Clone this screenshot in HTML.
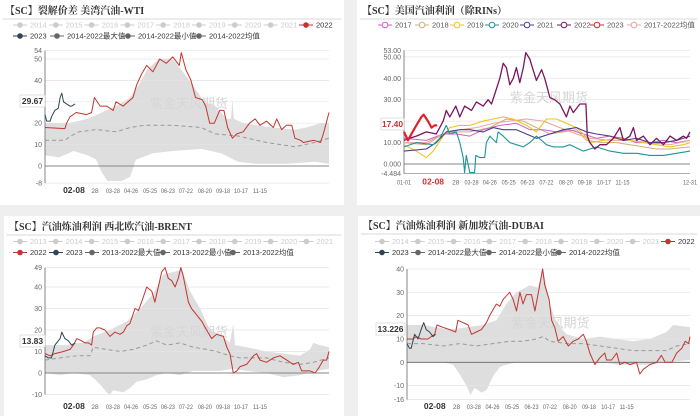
<!DOCTYPE html>
<html><head><meta charset="utf-8"><style>
html,body{margin:0;padding:0;background:#efefef;}
svg{display:block;font-family:"Liberation Sans","Noto Sans CJK SC",sans-serif;}
.ttl{font-family:"Liberation Serif","Noto Serif CJK SC",serif;font-weight:bold;font-size:10px;fill:#333;}
.tk{font-size:7px;fill:#666;}
.lg{font-size:7.5px;}
</style></head><body>
<svg id="chart" width="700" height="416"></svg>
<script>
// ---------- Panel 1: 裂解价差 美湾汽油-WTI ----------
const p1RedX=[0,7,7.6,8.8,11,14.7,16.4,17.4,19.4,21.7,24,25,27.5,31,32.3,34,35.8,38,40.4,42.7,45,47.3,48,49.6,51.4,53,55.4,56.6,58,59.6,61.5,63,64.3,66,67.5,69.8,72,74,75.7,78,80.4,81.6,83.3,85,86.9,88,90,91,94.7,97,98,99,100];
const p1RedY=[18,17.5,20,23,25,24,25,32,28,28,26,30,28,32,38,43,47,44,50,48,51,47,53,45,40,32,31,28,20,20,26,26,18,13,15,16,20,22,19,21,18,22,17,19,19,13,12,11,12,11,15,20,25];
const p1BlueX=[0,0.6,1.8,2.3,3.5,4.7,5.3,5.9,6.5,7.6,8.8,9.4,10.6];
const p1BlueY=[24,21,21,23,26,27,32,34,30,29,28,28,29];
const p1MaxX=[0,8,15,20,25,30,33,36,40,45,48,52,56,60,64,65.5,66,66.5,70,80,88,92,97,100];
const p1MaxY=[20,20,22,25,28,32,38,45,50,50,45,38,30,28,22,22,31,22,20,18,17,18,20,20];
const p1MinX=[0,5,10,15,18,20,22,27,30,32,38,45,55,62,68,75,85,95,100];
const p1MinY=[5,4,7,5,3,-3,-7,-7,-5,3,6,7,8,6,2,1,1,2,1];
const p1AvgX=[0,7,9,12,18,25,30,35,45,55,60,68,78,88,95,100];
const p1AvgY=[12,12,14,16,17,16,18,19,19,18,15,14,11,9,11,13];
const p1Ticks=[54,50,40,30,20,10,0,-8];
const p1Dates=["02-08","28","03-28","04-26","05-25","06-23","07-22","08-20","09-18","10-17","11-15"];
const p1DateX=[10.2,17.6,23.9,30.3,37,43.3,49.6,56.3,62.7,69,75.7];

// ---------- Panel 2: 美国汽油利润（除RINs） ----------
const p2Y2022X=[0,2,4.3,7.8,11.3,13.7,14.8,16,18.1,19.5,21.2,23.6,25.3,27.7,29.4,30.6,32.3,33.5,34.7,35.8,37,38.2,39.3,40.5,41.7,42.6,44,44.9,46.3,48.1,49.2,51,52.7,54.5,56.8,58,59.2,61.5,63.6,64.1,65,66.7,68.5,70.8,73.2,75.5,76.7,79,80.2,81.3,83.7,86,88.3,90.7,93,95.3,97.7,98.8,100];
const p2Y2022Y=[11,12,13,15,14,20,25,22,27,22,27,25,29,27,30,28,35,40,47,45,37,40,45,38,45,52,49,45,39,44,40,31,30,28,22,27,24,28,28,13,10,7,9,9,12,17,11,13,17,11,13,9,12,9,13,11,13,12,15];
const p2Y2023X=[0,1.4,2.6,4.3,6.1,6.9,8.4,9.6,10.7,11.6];
const p2Y2023Y=[15,11,14,18,22,23,20,17,18,18];
const p2Y2020X=[0,4.3,10.2,12.5,14.8,16,18.3,19.5,20.7,21.2,21.8,23,24.7,25.1,26.5,28.2,28.8,30,32.3,32.9,34.7,37,39.3,41.7,44,46.3,48.1,49.8,52.2,55.7,58,62.7,67.3,72,76.7,81.3,86,90.7,95.3,100];
const p2Y2020Y=[8,10,9,12,18,14,15,10,3,-4,4,-4,-4,4,3,3,10,13,10,15,13,10,9,8,10,13,11,9,8,8,9,6,8,6,5,5,4,4,5,6];
const p2Y2019X=[0,4.3,7.8,10.2,13.7,16,19.5,23,27.7,31.2,34.7,38.2,42.8,46.3,49.8,53.3,56.8,60.3,62.7,65,69.7,74.3,79,83.7,88.3,93,97.7,100];
const p2Y2019Y=[9,6,3,6,13,17,18,18,20,21,22,21,18,15,21,21,19,17,14,10,11,12,11,10,9,8,9,10];
const p2Y2021X=[0,7.8,11.3,14.8,19.5,23,27.7,31.2,34.7,39.3,42.8,46.3,51,55.7,60.3,63.8,67.3,72,76.7,81.3,86,90.7,95.3,100];
const p2Y2021Y=[6,7,10,15,16,16,15,17,16,16,14,12,14,16,17,15,14,13,11,12,10,10,11,13];
const p2Y2018X=[0,7.8,13.7,18.3,23,30,35.8,41.7,46.3,51,55.7,60.3,63.8,69.7,74.3,79,83.7,88.3,93,100];
const p2Y2018Y=[10,9,14,15,15,17,21,20,17,14,15,16,11,10,10,9,8,7,7,8];
const p2Y2017X=[0,7.8,13.7,18.3,23,27.7,33.5,39.3,44,48.7,53.3,58,62.7,67.3,72,76.7,81.3,86,90.7,95.3,100];
const p2Y2017Y=[12,11,14,14,13,16,18,19,16,16,15,16,14,12,13,12,10,10,11,10,11];
const p2AvgX=[0,7.8,13.7,19.5,25.3,31.2,37,42.8,48.7,54.5,60.3,65,72,79,86,93,100];
const p2AvgY=[10,10,14,16,17,19,20,21,20,17,14,12,11,11,10,9,11];
const p2Ticks=[53,50,40,30,20,10,0,-4.484];
const p2TickText=["53.00","50.00","40.00","30.00","20.00","10.00","0.000","-4.484"];
const p2Dates=["01-01","02-08","28","03-28","04-26","05-25","06-23","07-22","08-20","09-18","10-17","11-15","12-31"];
const p2DateX=[0,10.2,18.1,23.6,30,36.6,43.2,49.8,56.6,63.2,69.9,76.4,100];

// ---------- Panel 3: 西北欧汽油-BRENT ----------
const p3RedX=[0,1.8,3.5,6.5,8.8,10,11.2,12.9,14.1,15.3,16.4,17,18.2,19.4,21.1,22.9,24.6,26.4,27.6,28.8,29.9,31.7,32.9,34,35.8,37.6,38.7,39.9,41.1,42.3,43.4,44.6,45.8,46.9,47.8,48.7,50.5,51.6,53.4,55.2,56.9,58.7,60.4,62.8,64,65.1,66.3,67.5,68.7,71,73.4,74.5,75.7,78,80.4,82.7,85.1,87.4,89.2,90.4,93.3,95.1,96.2,98,99.2,100];
const p3RedY=[9,8,9,10,11,13,16,15,14,14,13,19,21,21,20,17,19,18,19,22,23,30,29,33,40,38,33,40,47,49,44,43,40,44,49,45,33,30,27,24,20,16,18,17,12,9,0,1,3,4,8,9,6,5,7,8,6,4,5,1,1,0,2,6,6,10];
const p3BlueX=[0,1.2,2.3,3.5,4.7,5.3,5.9,7,8.2,9.4,10.6];
const p3BlueY=[8,7,7,13,15,16,19,16,15,13,14];
const p3MaxX=[0,7.6,11.2,13.5,17,22.9,28.8,33.5,38.2,41.7,45.3,48.2,51.1,54.6,58.1,61.6,65.1,66.3,66.9,71,78,84,89.8,93.3,94.5,96.8,100];
const p3MaxY=[13,13,14,14,17,20,24,30,37,46,47,48,38,30,20,18,14,23,13,12,10,9,8,11,14,13,12];
const p3MinX=[0,5.3,10,15.8,17.6,19.9,21.7,22.9,24,27.6,29.9,32.3,35.8,39.3,42.8,47.5,52.2,56.9,61.6,66.3,71,78,84,89.8,95.7,100];
const p3MinY=[0,-1,0,-1,-3,-6,-9,-10,-8,-9,-7,-4,-3,-1,0,-1,1,1,1,2,1,0,-2,-1,1,2];
const p3AvgX=[0,5.3,11.2,15.8,17,21.7,26.4,31.1,35.8,39.3,42.8,47.5,52.2,56.9,60.4,65.1,68.7,73.4,78,84,89.8,94.5,100];
const p3AvgY=[6,7,8,8,12,11,10,11,13,15,13,14,12,11,10,8,7,7,7,5,4,5,7];
const p3Ticks=[49,40,30,20,10,0,-10];

// ---------- Panel 4: 新加坡汽油-DUBAI ----------
const p4RedX=[0,2.1,3.3,5,7.4,9.8,10.6,12.7,15.1,17.2,18,19.8,21.6,22.8,24.5,26.3,28.1,29.2,31.6,32.8,34,36.3,37.5,38.7,39.9,41,42.2,44,45.2,46.9,47.9,48.7,50.2,51.1,52.2,53.4,55.2,57,58.7,60.5,62.3,63.4,64.6,66.4,68.2,69.9,70.5,72.3,74.1,75.2,77,78.8,81.1,82.3,83.5,85.8,88.2,89.9,91.2,93.6,95.3,97.1,98.3,99.5,100];
const p4RedY=[10,10,11,10,10,12,16,15,14,13,18,17,16,12,13,14,17,20,25,24,27,30,27,22,30,25,29,29,22,33,40,33,27,18,15,9,11,7,9,10,12,9,4,-1,2,4,1,1,4,-1,0,-1,0,-5,-3,-1,0,3,0,0,4,6,9,8,11];
const p4BlueX=[0,0.9,1.5,2.7,3.9,5,5.9,6.8,8,9.2,10.1];
const p4BlueY=[8,6,6,12,10,14,17,14,13,11,12];
const p4MaxX=[0,5.7,10.4,15.1,21,26.9,31.6,35.1,38.7,43.4,46.2,48.1,50.5,52.8,56.4,62.3,68.2,74.1,79.9,85.8,91.7,94.1,100];
const p4MaxY=[16,16,15,14,15,16,18,25,30,33,32,40,25,17,12,10,11,10,9,10,13,16,15];
const p4MinX=[0,5.7,12.7,16.3,18.6,21,22.4,23.9,26.3,28.1,30.4,32.8,35.1,38.7,44.6,50.5,56.4,62.3,69.3,74.1,79.9,85.8,91.7,100];
const p4MinY=[0,0,0,-1,-5,-10,-14,-11,-13,-12,-6,-2,-1,0,0,0,0,0,0,-1,-1,-1,0,1];
const p4AvgX=[0,5.7,12.7,18.6,24.5,30.4,36.3,41,45.7,48.1,50.5,56.4,62.3,68.2,74.1,79.9,85.8,91.7,95.3,100];
const p4AvgY=[8,8,7,8,7,8,9,9,10,11,9,8,8,7,6,5,5,5,7,8];
const p4Ticks=[40,30,20,10,0,-10,-16];
const p4Dates=["02-08","28","03-28","04-26","05-25","06-23","07-22","08-20","09-18","10-17","11-15"];
const p4DateX=[9.8,17.5,23.6,30.2,37.1,44,50.5,57.5,64.3,71.1,77.6];

const NS="http://www.w3.org/2000/svg";
const svg=document.getElementById('chart');
function mk(tag,attrs,parent,text){
  const e=document.createElementNS(NS,tag);
  for(const k in attrs)e.setAttribute(k,attrs[k]);
  if(text!==undefined)e.textContent=text;
  (parent||svg).appendChild(e);return e;
}
function axisFns(P){
  return {sx:v=>P.x0+v/100*(P.x1-P.x0), sy:v=>P.zeroY-v*P.k};
}
function linePts(xs,ys,A){return xs.map((x,i)=>A.sx(x).toFixed(1)+','+A.sy(ys[i]).toFixed(1)).join(' ');}

function drawFrame(P,g,A){
  P.ticks.forEach((t,i)=>{
    const y=A.sy(t);
    const gl=mk('line',{x1:P.x0,x2:P.x1,y1:y,y2:y,stroke:'#e4e4e4','stroke-width':0.7},g);
    
    
    const tl=mk('text',{x:P.x0-3,y:y+2.5,'text-anchor':'end',class:'tk'},g,P.tickText?P.tickText[i]:String(t));
    
    
  });
  const ax=mk('line',{x1:P.x0,x2:P.x0,y1:A.sy(P.ticks[0]),y2:A.sy(P.ticks[P.ticks.length-1]),stroke:'#666','stroke-width':0.8},g);
  
  
  const zx=mk('line',{x1:P.x0,x2:P.x1,y1:A.sy(0),y2:A.sy(0),stroke:'#666','stroke-width':0.8},g);
  
  
  P.dates.forEach((d,i)=>{
    const x=A.sx(P.dateX[i]);
    const hl=(d==='02-08');
    const a={x:x,y:P.dateY,'text-anchor':'middle','font-size':hl?8.5:6.5,'font-weight':hl?'bold':'normal',fill:hl?P.hlColor:'#666'};
    if(!hl && d.length===5){a.textLength=14;a.lengthAdjust='spacingAndGlyphs';}
    const t=mk('text',a,g,d);
    
    
  });
  const wm=mk('text',{x:(P.x0+P.x1)/2+2,y:A.sy(P.wmV),'text-anchor':'middle','font-size':13,fill:'#d6d6d6'},g,'紫金天风期货');
  
  
}
function band(A,mx,my,nx,ny,g){
  const pts=linePts(mx,my,A)+' '+linePts(nx.slice().reverse(),ny.slice().reverse(),A);
  const p=mk('polygon',{points:pts,fill:'#dedede',stroke:'none'},g);
  
  
}
function line(A,xs,ys,color,w,g,name,dash){
  const a={points:linePts(xs,ys,A),fill:'none',stroke:color,'stroke-width':w,'stroke-linejoin':'round'};
  if(dash)a['stroke-dasharray']=dash;
  const p=mk('polyline',a,g);
  
  
}
function legendItem(g,x,y,label,color,textColor){
  const li=mk('g',{},g);
  
  
  mk('line',{x1:x,x2:x+14,y1:y,y2:y,stroke:color,'stroke-width':1},li);
  mk('circle',{cx:x+7,cy:y,r:2.8,fill:color},li);
  mk('text',{x:x+17,y:y+2.7,class:'lg',fill:textColor||color},li,label);
}
function legendRing(g,x,y,label,color){
  const li=mk('g',{},g);
  
  
  mk('line',{x1:x,x2:x+14,y1:y,y2:y,stroke:color,'stroke-width':1},li);
  mk('circle',{cx:x+7,cy:y,r:2.8,fill:'#fff',stroke:color,'stroke-width':1},li);
  mk('text',{x:x+17,y:y+2.7,class:'lg',fill:'#555'},li,label);
}
function valueBox(g,x,y,w,label,color){
  const b=mk('g',{},g);
  
  
  mk('rect',{x:x,y:y-6,width:w,height:12,fill:'#fff',stroke:'#ccc','stroke-width':0.6},b);
  mk('text',{x:x+w/2,y:y+3.2,'text-anchor':'middle','font-size':8.5,'font-weight':'bold',fill:color},b,label);
}
function panelBg(x,y,w,h,name,title,lineY){
  const g=mk('g',{});
  
  
  mk('rect',{x:x,y:y,width:w,height:h,fill:'#fff'},g);
  const t=mk('text',{x:x+5,y:lineY-5,class:'ttl'},g,title);
  
  
  mk('line',{x1:x+3,x2:x+w-3,y1:lineY,y2:lineY,stroke:'#ccc','stroke-width':0.8},g);
  return g;
}
const RED='#c23531',BLUE='#2f4554',GREY='#cccccc',DG='#666';

// Panel 1
{
  const g=panelBg(0,0,344,205,'panel-wti','【SC】裂解价差 美湾汽油-WTI',19);
  const P={x0:45,x1:329,zeroY:166,k:2.14,ticks:p1Ticks,dates:p1Dates,dateX:p1DateX,dateY:193,hlColor:'#333',wmV:27};
  const A=axisFns(P);
  band(A,p1MaxX,p1MaxY,p1MinX,p1MinY,g);
  drawFrame(P,g,A);
  line(A,p1AvgX,p1AvgY,'#999',1,g,'avg-line','4,3');
  line(A,p1RedX,p1RedY,RED,1,g,'series-2022');
  line(A,p1BlueX,p1BlueY,BLUE,1,g,'series-2023');
  const r1=['2014','2015','2016','2017','2018','2019','2020','2021'];
  r1.forEach((s,i)=>legendItem(g,13+i*35.8,25,s,GREY));
  legendItem(g,299,25,'2022',RED,'#333');
  legendItem(g,13,36,'2023',BLUE,'#333');
  legendItem(g,50,36,'2014-2022最大值',DG,'#333');
  legendItem(g,121,36,'2014-2022最小值',DG,'#333');
  legendItem(g,192,36,'2014-2022均值',DG,'#333');
  valueBox(g,20,101,25,'29.67','#333');
}
// Panel 2
{
  const g=panelBg(357,0,343,205,'panel-us-gasoline','【SC】美国汽油利润（除RINs）',19);
  const P={x0:404,x1:690,zeroY:164,k:2.143,ticks:p2Ticks,tickText:p2TickText,dates:p2Dates,dateX:p2DateX,dateY:184.5,hlColor:'#d03030',wmV:29};
  const A=axisFns(P);
  drawFrame(P,g,A);
  mk('line',{x1:404,x2:690,y1:A.sy(-4.484),y2:A.sy(-4.484),stroke:'#888','stroke-width':0.6},g);
  line(A,p2Y2018X,p2Y2018Y,'#c9b27a',1,g,'series-2018');
  line(A,p2Y2017X,p2Y2017Y,'#d65cc8',1,g,'series-2017');
  line(A,p2AvgX,p2AvgY,'#f0a0a0',1,g,'series-avg');
  line(A,p2Y2019X,p2Y2019Y,'#f0c419',1.1,g,'series-2019');
  line(A,p2Y2021X,p2Y2021Y,'#4b3c8f',1.1,g,'series-2021');
  line(A,p2Y2020X,p2Y2020Y,'#1b9696',1.1,g,'series-2020');
  line(A,p2Y2022X,p2Y2022Y,'#7a1660',1.3,g,'series-2022');
  line(A,p2Y2023X,p2Y2023Y,'#e0202c',2.2,g,'series-2023');
  const names=['2017','2018','2019','2020','2021','2022','2023','2017-2022均值'];
  const cols=['#d65cc8','#c9b27a','#f0c419','#1b9696','#4b3c8f','#7a1660','#e0202c','#f0a0a0'];
  const lx=[378,415,450,485,520,557,590,627];
  names.forEach((s,i)=>legendRing(g,lx[i],25,s,cols[i]));
  valueBox(g,381,124,23,'17.40','#d03030');
}
// Panel 3
{
  const g=panelBg(4,216,340,200,'panel-brent','【SC】汽油炼油利润 西北欧汽油-BRENT',235);
  const P={x0:45,x1:329,zeroY:373,k:2.15,ticks:p3Ticks,dates:p1Dates,dateX:p1DateX,dateY:409,hlColor:'#333',wmV:17};
  const A=axisFns(P);
  band(A,p3MaxX,p3MaxY,p3MinX,p3MinY,g);
  drawFrame(P,g,A);
  line(A,p3AvgX,p3AvgY,'#999',1,g,'avg-line','4,3');
  line(A,p3RedX,p3RedY,RED,1,g,'series-2022');
  line(A,p3BlueX,p3BlueY,BLUE,1,g,'series-2023');
  const r1=['2013','2014','2015','2016','2017','2018','2019','2020','2021'];
  r1.forEach((s,i)=>legendItem(g,13+i*35.8,241.5,s,GREY));
  legendItem(g,13,252.5,'2022',RED,'#333');
  legendItem(g,49,252.5,'2023',BLUE,'#333');
  legendItem(g,85,252.5,'2013-2022最大值',DG,'#333');
  legendItem(g,156,252.5,'2013-2022最小值',DG,'#333');
  legendItem(g,226,252.5,'2013-2022均值',DG,'#333');
  valueBox(g,20,341,25,'13.83','#333');
}
// Panel 4
{
  const g=panelBg(358,216,342,200,'panel-dubai','【SC】汽油炼油利润 新加坡汽油-DUBAI',234);
  const P={x0:407,x1:690,zeroY:362.3,k:2.333,ticks:p4Ticks,dates:p4Dates,dateX:p4DateX,dateY:409,hlColor:'#333',wmV:15};
  const A=axisFns(P);
  band(A,p4MaxX,p4MaxY,p4MinX,p4MinY,g);
  drawFrame(P,g,A);
  line(A,p4AvgX,p4AvgY,'#999',1,g,'avg-line','4,3');
  line(A,p4RedX,p4RedY,RED,1,g,'series-2022');
  line(A,p4BlueX,p4BlueY,BLUE,1,g,'series-2023');
  const r1=['2014','2015','2016','2017','2018','2019','2020','2021'];
  r1.forEach((s,i)=>legendItem(g,375+i*35.8,241.5,s,GREY));
  legendItem(g,661,241.5,'2022',RED,'#333');
  legendItem(g,375,252.5,'2023',BLUE,'#333');
  legendItem(g,411,252.5,'2014-2022最大值',DG,'#333');
  legendItem(g,482,252.5,'2014-2022最小值',DG,'#333');
  legendItem(g,552,252.5,'2014-2022均值',DG,'#333');
  valueBox(g,376,329,29,'13.226','#333');
}
</script>
</body></html>
